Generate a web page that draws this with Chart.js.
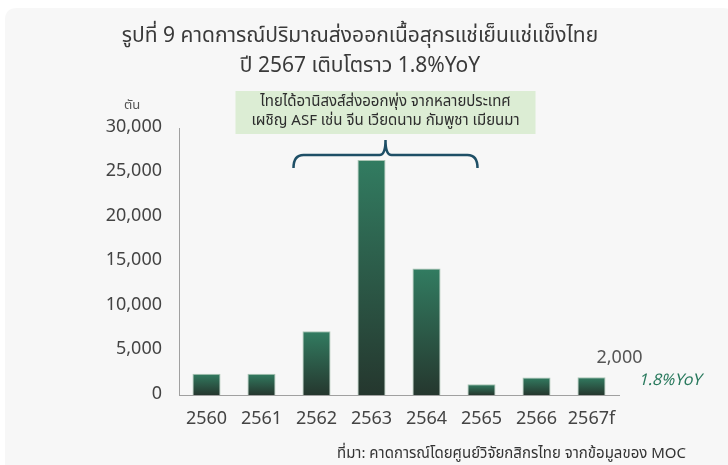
<!DOCTYPE html>
<html lang="th">
<head>
    <meta charset="UTF-8">
    <title>Thai frozen pork exports</title>
    <script src="https://cdn.jsdelivr.net/npm/chart.js"></script>
    <style>
        html, body { margin: 0; padding: 0; background: #ffffff; }
        #wrap { width: 728px; height: 465px; }
    </style>
</head>
<body>
    <div id="wrap"><canvas id="porkChart" width="728" height="465"></canvas></div>

    <script>
        // data (tonnes)
        const years = ['2560', '2561', '2562', '2563', '2564', '2565', '2566', '2567f'];
        const exportTons = [2400, 2400, 7150, 26400, 14200, 1200, 1960, 2000];
        const yTicks = [0, 5000, 10000, 15000, 20000, 25000, 30000];

        const titleLines = ['รูปที่ 9 คาดการณ์ปริมาณส่งออกเนื้อสุกรแช่เย็นแช่แข็งไทย', 'ปี 2567 เติบโตราว 1.8%YoY'];
        const noteLines = ['ไทยได้อานิสงส์ส่งออกพุ่ง จากหลายประเทศ', 'เผชิญ ASF เช่น จีน เวียดนาม กัมพูชา เมียนมา'];
        const unitLabel = 'ตัน';
        const lastLabel = '2,000';
        const growthLabel = '1.8%YoY';
        const sourceText = 'ที่มา: คาดการณ์โดยศูนย์วิจัยกสิกรไทย จากข้อมูลของ MOC';

        const FONT = '"Noto Sans Thai", "Noto Sans", "DejaVu Sans", sans-serif';

        function barGradient(context) {
            const chart = context.chart;
            const y = chart.scales.y;
            if (!y || context.dataIndex === undefined) return '#2f7359';
            const top = y.getPixelForValue(exportTons[context.dataIndex]);
            const bottom = y.getPixelForValue(0);
            if (!isFinite(top) || !isFinite(bottom) || top === bottom) return '#2f7359';
            const g = chart.ctx.createLinearGradient(0, top, 0, bottom);
            g.addColorStop(0, '#327c61');
            g.addColorStop(1, '#25372e');
            return g;
        }

        function roundRect(ctx, x, y, w, h, r) {
            ctx.beginPath();
            ctx.moveTo(x + r, y);
            ctx.lineTo(x + w - r, y);
            ctx.quadraticCurveTo(x + w, y, x + w, y + r);
            ctx.lineTo(x + w, y + h - r);
            ctx.quadraticCurveTo(x + w, y + h, x + w - r, y + h);
            ctx.lineTo(x + r, y + h);
            ctx.quadraticCurveTo(x, y + h, x, y + h - r);
            ctx.lineTo(x, y + r);
            ctx.quadraticCurveTo(x, y, x + r, y);
            ctx.closePath();
        }

        // panel background, title, note box, brace, labels and source
        const decorations = {
            id: 'decorations',
            beforeDraw(chart) {
                const ctx = chart.ctx;
                ctx.save();
                ctx.fillStyle = '#ffffff';
                ctx.fillRect(0, 0, chart.width, chart.height);
                ctx.fillStyle = '#f7f7f7';
                roundRect(ctx, 5, 8, 730, 470, 12);
                ctx.fill();
                ctx.restore();
            },
            afterDraw(chart) {
                const ctx = chart.ctx;
                const x = chart.scales.x;
                ctx.save();

                // title
                ctx.fillStyle = '#3a3a3a';
                ctx.textAlign = 'center';
                ctx.textBaseline = 'middle';
                ctx.font = '21px ' + FONT;
                ctx.fillText(titleLines[0], 360, 38);
                ctx.fillText(titleLines[1], 360, 68);

                // unit
                ctx.font = '13px ' + FONT;
                ctx.fillStyle = '#555555';
                ctx.fillText(unitLabel, 132, 106);

                // note box
                const mid = (x.getPixelForValue(2) + x.getPixelForValue(4)) / 2 + 14;
                ctx.fillStyle = '#dcedd4';
                ctx.fillRect(mid - 150, 91, 300, 43);
                ctx.fillStyle = '#2d2d2d';
                ctx.font = '15px ' + FONT;
                ctx.fillText(noteLines[0], mid, 103);
                ctx.fillText(noteLines[1], mid, 122);

                // brace
                const bl = x.getPixelForValue(2) - 23;
                const br = x.getPixelForValue(4) + 51;
                const by = 155;
                ctx.strokeStyle = '#1e4f66';
                ctx.lineWidth = 2.5;
                ctx.beginPath();
                ctx.moveTo(bl, 168);
                ctx.quadraticCurveTo(bl, by, bl + 10, by);
                ctx.lineTo(mid - 6, by);
                ctx.quadraticCurveTo(mid, by, mid, 140);
                ctx.quadraticCurveTo(mid, by, mid + 6, by);
                ctx.lineTo(br - 10, by);
                ctx.quadraticCurveTo(br, by, br, 168);
                ctx.stroke();

                // last bar labels
                const bar = chart.getDatasetMeta(0).data[years.length - 1];
                ctx.fillStyle = '#555555';
                ctx.font = '18px ' + FONT;
                ctx.fillText(lastLabel, bar.x + 28, 359);
                ctx.textAlign = 'left';
                ctx.fillStyle = '#2a7a5e';
                ctx.font = 'italic 16px ' + FONT;
                ctx.fillText(growthLabel, bar.x + 47, 382);

                // source
                ctx.textAlign = 'right';
                ctx.fillStyle = '#333333';
                ctx.font = '15px ' + FONT;
                ctx.fillText(sourceText, 686, 455);

                ctx.restore();
            }
        };

        const ctx = document.getElementById('porkChart').getContext('2d');

        new Chart(ctx, {
            type: 'bar',
            data: {
                labels: years,
                datasets: [{
                    data: exportTons,
                    backgroundColor: barGradient,
                    borderColor: '#a9c4b3',
                    borderWidth: 1,
                    categoryPercentage: 1,
                    barPercentage: 0.51
                }]
            },
            options: {
                responsive: false,
                animation: false,
                devicePixelRatio: 1,
                layout: { padding: { top: 128, left: 0, right: 109, bottom: 0 } },
                plugins: {
                    legend: { display: false },
                    title: { display: false },
                    tooltip: { enabled: false }
                },
                scales: {
                    x: {
                        afterFit: s => { s.height = 70; },
                        grid: { display: false, drawTicks: false },
                        border: { color: '#a0a0a0', width: 1 },
                        ticks: { color: '#444444', padding: 15, font: { family: FONT, size: 18 } }
                    },
                    y: {
                        min: 0,
                        max: 30000,
                        afterFit: s => { s.width = 179; },
                        afterBuildTicks: s => { s.ticks = yTicks.map(v => ({ value: v })); },
                        grid: { display: false, drawTicks: false },
                        border: { color: '#a0a0a0', width: 1 },
                        ticks: {
                            color: '#444444',
                            padding: 17,
                            font: { family: FONT, size: 18 },
                            callback: v => v.toLocaleString('en-US')
                        }
                    }
                }
            },
            plugins: [decorations]
        });
    </script>
</body>
</html>
